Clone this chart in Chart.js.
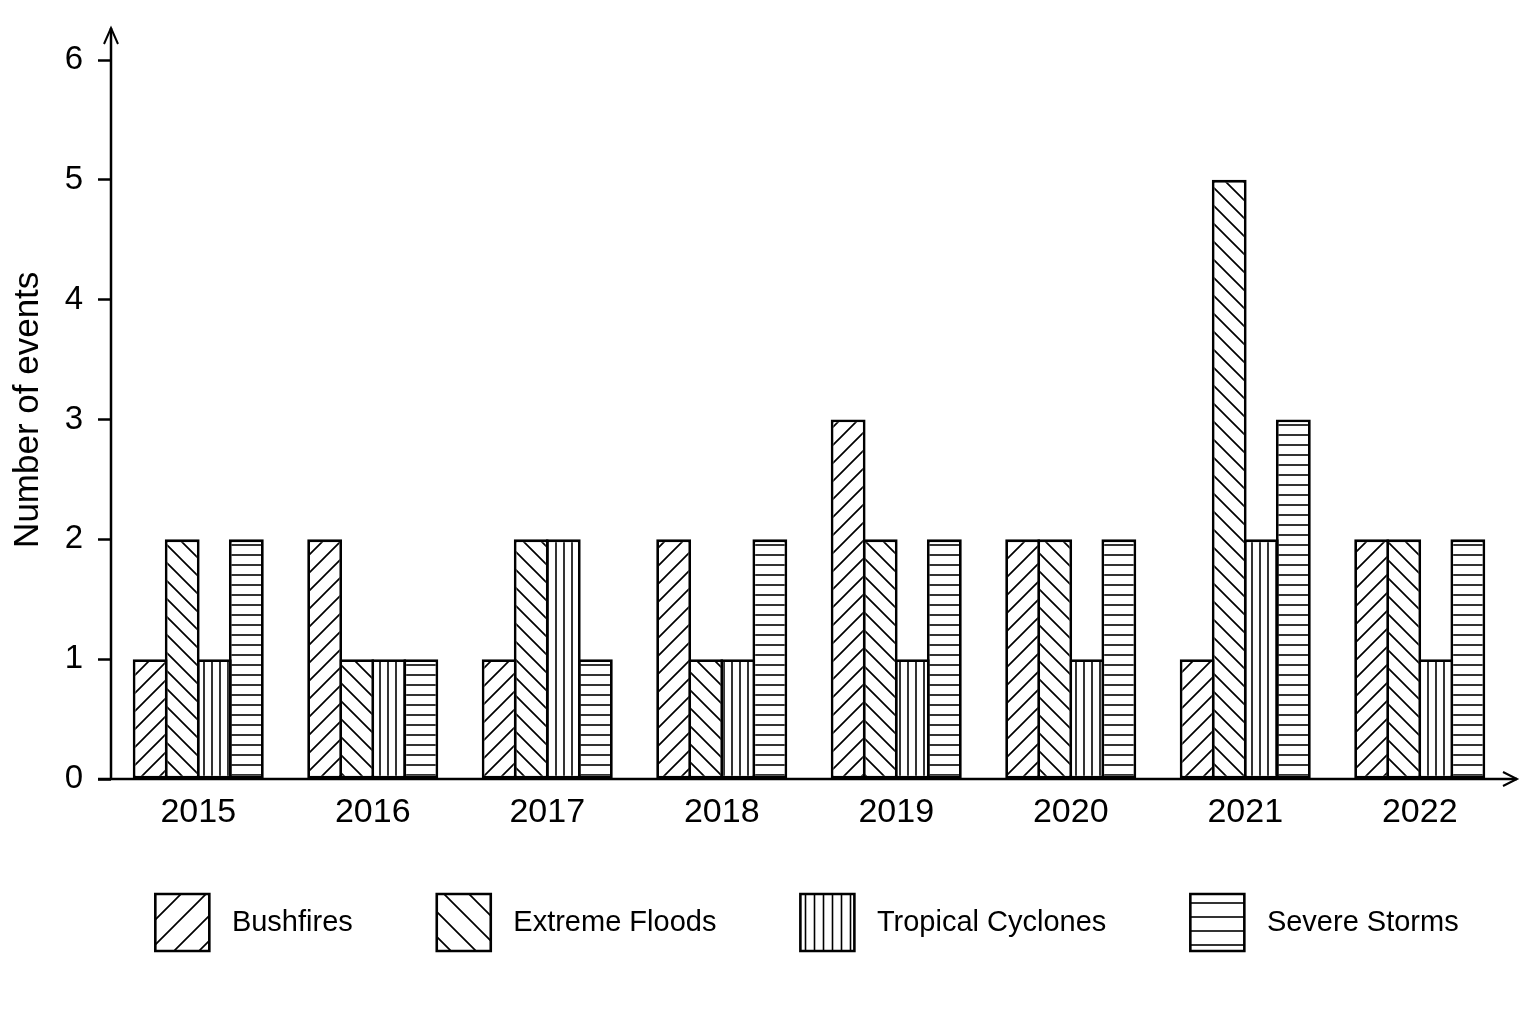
<!DOCTYPE html>
<html>
<head>
<meta charset="utf-8">
<script src="https://cdn.jsdelivr.net/npm/chart.js@4.4.1/dist/chart.umd.min.js"></script>
<style>
  html, body { margin: 0; padding: 0; background: #fff; }
  #wrap { width: 1536px; height: 1024px; }
</style>
</head>
<body>
<div id="wrap"><canvas id="myChart" width="1536" height="1024"></canvas></div>
<script>
// chart data
const years = ['2015', '2016', '2017', '2018', '2019', '2020', '2021', '2022'];
const seriesNames = ['Bushfires', 'Extreme Floods', 'Tropical Cyclones', 'Severe Storms'];
const bushfires = [1, 2, 1, 2, 3, 2, 1, 2];
const floods    = [2, 1, 2, 1, 2, 2, 5, 2];
const cyclones  = [1, 1, 2, 1, 1, 1, 2, 1];
const storms    = [2, 1, 1, 2, 2, 2, 3, 2];
const yTicks    = [0, 1, 2, 3, 4, 5, 6];

const canvas = document.getElementById('myChart');
const ctx = canvas.getContext('2d');

// hatch fill made on a small tile
function hatch(kind, size, lw) {
  const c = document.createElement('canvas');
  c.width = size; c.height = size;
  const g = c.getContext('2d');
  g.fillStyle = '#fff';
  g.fillRect(0, 0, size, size);
  g.strokeStyle = '#000';
  g.lineWidth = lw;
  g.beginPath();
  if (kind === '/') {
    g.moveTo(-2, size + 2); g.lineTo(size + 2, -2);
    g.moveTo(-2, 2); g.lineTo(2, -2);
    g.moveTo(size - 2, size + 2); g.lineTo(size + 2, size - 2);
  } else if (kind === '\\') {
    g.moveTo(-2, -2); g.lineTo(size + 2, size + 2);
    g.moveTo(-2, size - 2); g.lineTo(2, size + 2);
    g.moveTo(size - 2, -2); g.lineTo(size + 2, 2);
  } else if (kind === '|') {
    g.moveTo(size / 2, 0); g.lineTo(size / 2, size);
  } else {
    g.moveTo(0, size / 2); g.lineTo(size, size / 2);
  }
  g.stroke();
  return ctx.createPattern(c, 'repeat');
}

const barFills = [hatch('/', 18, 1.7), hatch('\\', 18, 1.7), hatch('|', 8, 1.6), hatch('-', 10, 1.6)];
const legendFills = [hatch('/', 25, 1.7), hatch('\\', 25, 1.7), hatch('|', 9, 1.6), hatch('-', 14, 1.6)];
const seriesValues = [bushfires, floods, cyclones, storms];

Chart.defaults.font.family = '"Liberation Sans", Arial, sans-serif';
Chart.defaults.color = '#000';

const axisArrows = {
  id: 'axisArrows',
  afterLayout(chart) {
    // legend row sits a bit right of centre and closer to the axis in the original
    const lg = chart.legend;
    lg.left += 50; lg.right += 50;
    lg.top -= 21; lg.bottom -= 21;
  },
  afterDraw(chart) {
    const a = chart.chartArea;
    const c = chart.ctx;
    c.save();
    c.strokeStyle = '#000';
    c.lineWidth = 2.5;
    c.beginPath();
    c.moveTo(a.left, a.bottom); c.lineTo(a.left, a.top - 32);
    c.moveTo(a.left - 13, a.bottom); c.lineTo(a.right + 10, a.bottom);
    c.stroke();
    c.lineWidth = 2;
    c.beginPath();
    c.moveTo(a.left - 7, a.top - 16); c.lineTo(a.left, a.top - 32); c.lineTo(a.left + 7, a.top - 16);
    c.moveTo(a.right - 4, a.bottom - 7); c.lineTo(a.right + 10, a.bottom); c.lineTo(a.right - 4, a.bottom + 7);
    c.stroke();
    c.restore();
  }
};

new Chart(ctx, {
  type: 'bar',
  data: {
    labels: years,
    datasets: seriesNames.map((name, i) => ({
      label: name,
      data: seriesValues[i],
      backgroundColor: barFills[i],
      borderColor: '#000',
      borderWidth: 2.8,
      borderSkipped: false,
      barPercentage: 1.087,
      categoryPercentage: 0.735
    }))
  },
  options: {
    responsive: false,
    devicePixelRatio: 1,
    animation: false,
    layout: { padding: { left: 7, right: 29, top: 60, bottom: 42 } },
    plugins: {
      tooltip: { enabled: false },
      legend: {
        position: 'bottom',
        labels: {
          boxWidth: 54,
          boxHeight: 57,
          padding: 84,
          font: { size: 29 },
          color: '#000',
          generateLabels(chart) {
            const items = Chart.defaults.plugins.legend.labels.generateLabels(chart);
            items.forEach((it, i) => {
              it.fillStyle = legendFills[i];
              it.strokeStyle = '#000';
              it.lineWidth = 2.6;
              it.text = ' ' + it.text;
            });
            return items;
          }
        }
      }
    },
    scales: {
      x: {
        grid: { display: false, drawTicks: false },
        border: { display: false },
        ticks: { font: { size: 34 }, padding: 13, color: '#000' },
        afterFit(scale) { scale.height = 52; }
      },
      y: {
        min: 0,
        max: 6,
        afterBuildTicks(scale) { scale.ticks = yTicks.map(v => ({ value: v })); },
        grid: { display: true, drawOnChartArea: false, drawTicks: true, tickLength: 13, tickWidth: 2.5, tickColor: '#000' },
        border: { display: false },
        ticks: { font: { size: 33 }, padding: 15, color: '#000' },
        title: {
          display: true,
          text: '  Number of events',
          font: { size: 35 },
          color: '#000',
          padding: 0
        },
        afterFit(scale) { scale.width = 104; }
      }
    }
  },
  plugins: [axisArrows]
});
</script>
</body>
</html>
